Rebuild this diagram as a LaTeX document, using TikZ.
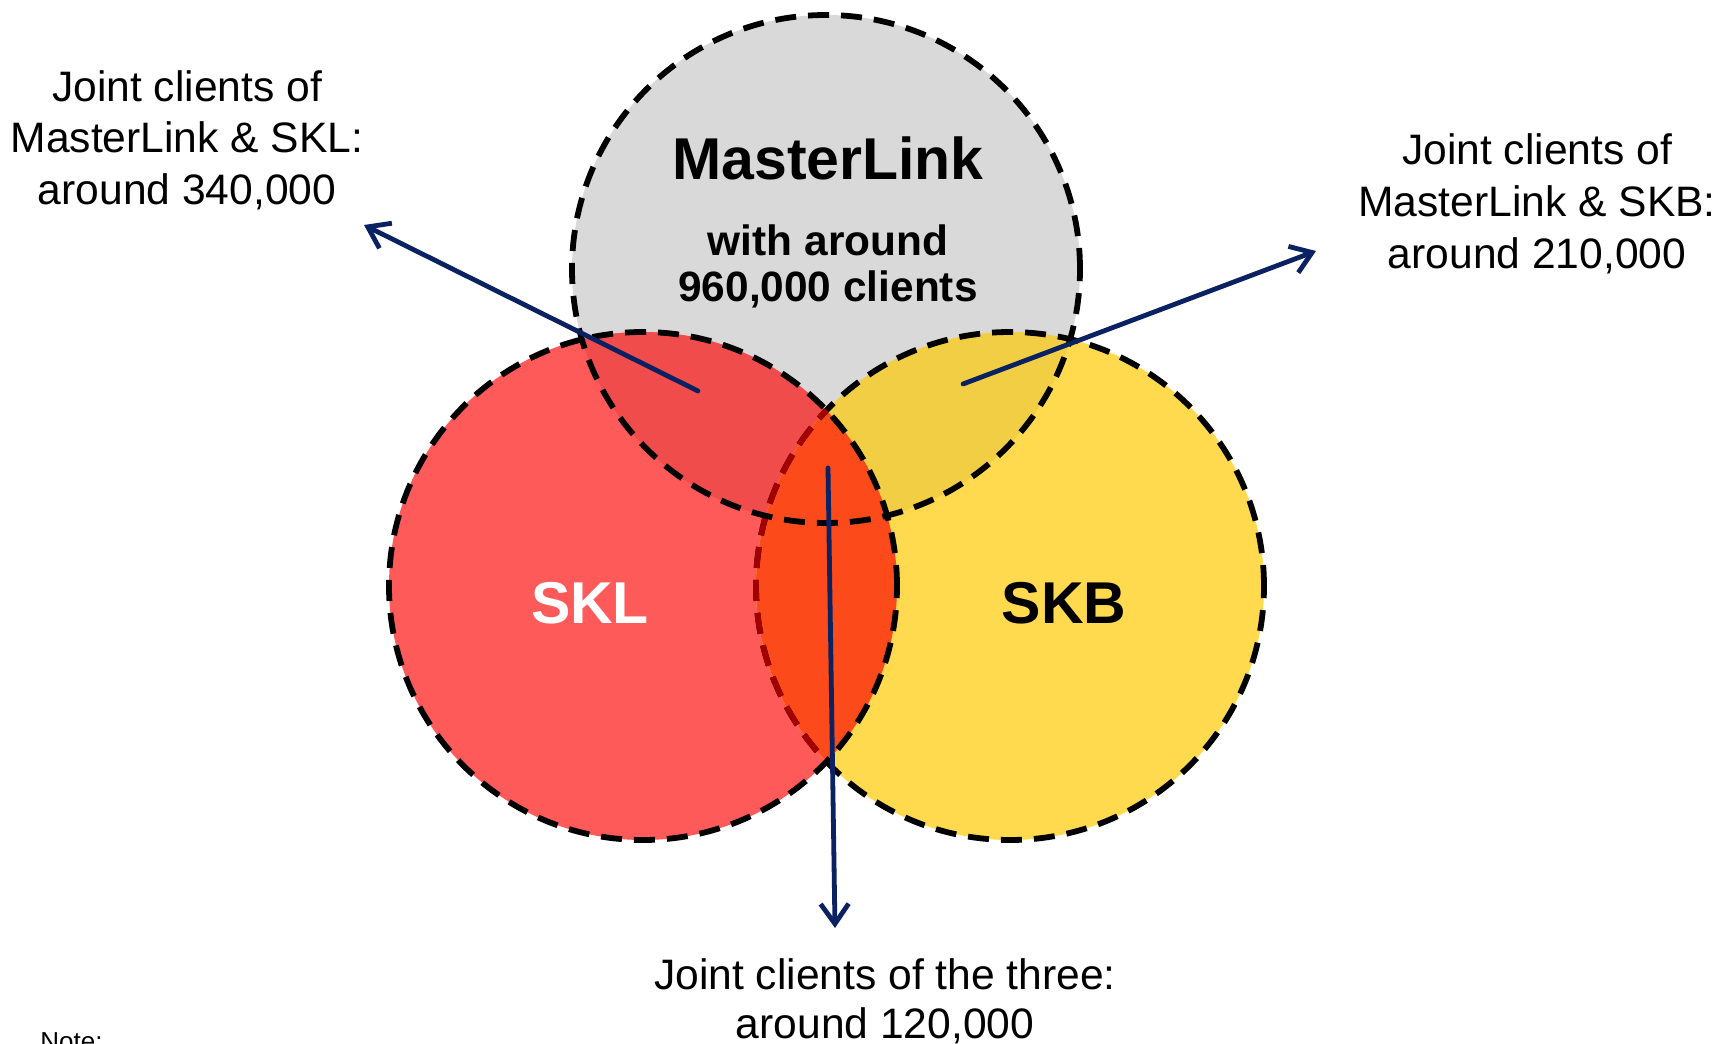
\documentclass[tikz,border=0pt]{standalone}
\usepackage{fontspec}
\setmainfont{Liberation Sans}
\usetikzlibrary{arrows.meta}
\definecolor{cgray}{HTML}{D9D9D9}
\definecolor{cred}{HTML}{FF5A5A}
\definecolor{credg}{HTML}{F04C4C}
\definecolor{cyel}{HTML}{FFDA4F}
\definecolor{cyelg}{HTML}{F2CE45}
\definecolor{corange}{HTML}{FC4A1A}
\definecolor{cdarkred}{HTML}{A30000}
\definecolor{cnavy}{HTML}{0A2262}
\begin{document}
\begin{tikzpicture}[x=0.5pt,y=-0.5pt,
  ring/.style={draw=black, line width=2.9pt, dash pattern=on 10.5pt off 6pt},
  pointer/.style={draw=cnavy, line width=2.4pt, line cap=round, -{Straight Barb[length=10pt,width=14pt,line width=2.4pt]}},
  lbl/.style={anchor=base, inner sep=0pt, font=\fontsize{21.3}{25}\selectfont},
  bigb/.style={anchor=base, inner sep=0pt, font=\bfseries\fontsize{29.5}{29}\selectfont},
  midb/.style={anchor=base, inner sep=0pt, font=\bfseries\fontsize{21.2}{23}\selectfont}]
\useasboundingbox (0,0) rectangle (1721,1044);
\fill[white] (0,0) rectangle (1721,1044);
\coordinate (cm) at (826,269);
\coordinate (cl) at (643,586);
\coordinate (cb) at (1010,586);
% fills
\fill[cgray] (cm) circle[radius=127pt];
\fill[cred] (cl) circle[radius=127pt];
\fill[cyel] (cb) circle[radius=127pt];
\begin{scope}
  \clip (cm) circle[radius=127pt];
  \fill[credg] (cl) circle[radius=127pt];
  \fill[cyelg] (cb) circle[radius=127pt];
\end{scope}
\begin{scope}
  \clip (cl) circle[radius=127pt];
  \fill[corange] (cb) circle[radius=127pt];
\end{scope}
% borders
\draw[ring] (cb) circle[radius=127pt];
\begin{scope}
  \clip (cl) circle[radius=127pt];
  \draw[ring, draw=cdarkred] (cb) circle[radius=127pt];
\end{scope}
\draw[ring] (cl) circle[radius=127pt];
\draw[ring] (cm) circle[radius=127pt];
% circle texts
\node[bigb] (ml) at (828,179) {MasterLink};
\node[midb] (ml2) at (828,255) {with around};
\node[midb] (ml3) at (828,301) {960,000 clients};
\node[bigb, text=white] (skl) at (590,623) {SKL};
\node[bigb] (skb) at (1064,623) {SKB};
% labels
\node[lbl] (l1a) at (187,101) {Joint clients of};
\node[lbl] (l1b) at (187,152) {MasterLink \& SKL:};
\node[lbl] (l1c) at (187,204) {around 340,000};
\node[lbl] (l2a) at (1537,164) {Joint clients of};
\node[lbl] (l2b) at (1537,216) {MasterLink \& SKB:};
\node[lbl] (l2c) at (1537,268) {around 210,000};
\node[lbl] (l3a) at (885,989) {Joint clients of the three:};
\node[lbl] (l3b) at (885,1038) {around 120,000};
\node[anchor=north west, inner sep=0pt, font=\fontsize{13}{15}\selectfont] (note) at (40,1032) {Note:};
% arrows
\coordinate (a1s) at (698,391); \coordinate (a1t) at (364,225);
\coordinate (a2s) at (963,384); \coordinate (a2t) at (1316,251);
\coordinate (a3s) at (828,468); \coordinate (a3t) at (835,928);
\draw[pointer] (a1s) -- (a1t);
\draw[pointer] (a2s) -- (a2t);
\draw[pointer] (a3s) -- (a3t);
\end{tikzpicture}
\end{document}
